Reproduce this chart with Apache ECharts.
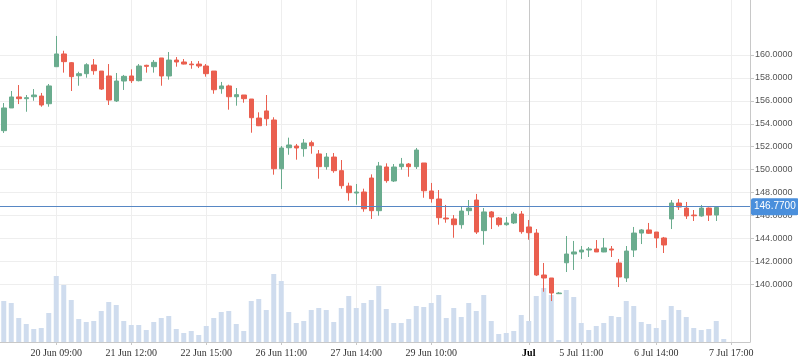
<!DOCTYPE html>
<html><head><meta charset="utf-8">
<script src="https://cdn.jsdelivr.net/npm/echarts@6/dist/echarts.min.js"></script>
<style>html,body{margin:0;padding:0;background:#fff}#c{width:798px;height:363px}</style>
</head><body><div id="c"></div>
<script>
// ---- data ----
const openP = [153.40,155.38,156.34,156.19,156.36,156.42,155.75,158.98,160.09,159.33,
158.19,158.37,159.13,158.60,158.17,155.99,157.73,158.17,157.76,159.10,
158.98,159.74,158.17,159.56,159.39,159.21,159.21,159.04,158.60,157.06,
157.30,156.36,156.51,156.16,154.50,155.12,154.33,150.08,151.91,152.06,
151.83,152.35,151.37,150.26,151.10,149.91,148.57,147.96,148.05,149.27,
146.42,150.23,149.01,150.26,150.49,150.26,150.58,148.14,147.44,145.78,
145.70,145.20,146.42,147.35,144.68,146.31,145.78,145.20,145.35,146.13,
145.00,144.47,140.81,140.55,139.18,141.88,142.64,142.82,142.99,143.08,
142.82,143.08,141.86,140.55,142.99,144.47,144.74,144.56,144.04,145.70,
147.09,146.65,146.04,145.96,146.65,146.04];
const closeP = [155.38,156.34,156.19,156.28,156.51,155.64,157.30,160.09,159.42,158.11,
158.37,159.15,158.63,157.03,156.07,157.73,158.14,157.76,159.04,159.01,
159.36,158.17,159.56,159.39,159.21,159.15,159.04,158.37,156.97,157.30,
156.36,156.54,156.19,154.53,153.83,154.44,150.08,151.89,152.15,151.89,
152.32,152.09,150.26,151.10,149.91,148.60,147.99,148.05,146.59,146.42,
150.32,149.04,150.23,150.49,150.26,151.71,148.16,147.47,145.81,145.70,
145.20,146.39,146.65,144.56,146.31,145.87,145.20,145.35,146.13,144.59,
144.50,140.81,140.55,139.24,139.24,142.64,142.82,142.99,143.08,142.82,
143.17,142.99,140.64,142.90,144.47,144.74,144.45,144.04,143.43,147.09,
146.74,145.96,145.98,146.65,146.04,146.70];
const lowP = [153.20,155.38,155.72,155.05,156.01,155.49,155.49,158.98,158.46,156.86,
157.32,158.02,158.28,156.95,155.64,155.90,156.95,157.56,157.70,158.46,
158.46,157.32,157.85,158.98,159.18,158.80,158.86,158.11,156.62,156.62,
155.23,155.58,155.84,153.22,153.80,153.83,149.56,148.31,151.30,150.87,
151.13,151.39,149.21,150.00,149.73,148.34,147.29,146.94,146.33,145.70,
145.98,148.86,148.92,150.00,149.38,150.06,147.55,147.12,145.20,145.37,
144.06,144.85,146.04,144.39,143.45,144.82,145.03,145.11,145.26,144.41,
143.89,140.72,139.35,138.54,139.18,141.07,141.25,142.21,142.38,142.82,
142.80,142.38,139.76,140.20,142.38,143.51,144.39,143.17,142.73,144.82,
146.48,145.70,145.52,145.90,145.52,145.52];
const highP = [155.81,156.86,157.38,156.51,157.03,156.69,157.47,161.66,160.37,159.39,
158.54,159.28,159.65,158.60,159.21,158.43,158.26,158.75,159.21,159.15,
159.56,159.74,160.26,159.82,159.65,159.47,159.47,159.21,158.60,157.65,
157.41,157.12,156.51,156.16,155.00,156.51,154.57,152.06,152.79,152.24,
152.67,152.53,151.71,151.45,151.45,150.84,148.86,148.75,148.34,149.59,
150.67,150.55,150.49,151.02,150.58,151.89,150.58,148.84,148.22,146.92,
146.04,146.74,147.35,147.88,146.65,146.39,145.87,145.87,146.31,146.39,
145.61,144.82,141.86,140.55,139.33,144.21,143.78,143.34,143.25,143.86,
144.04,143.34,142.21,143.34,145.00,144.82,145.35,144.56,144.13,147.35,
147.44,147.18,146.48,146.92,146.70,146.77];
const volume = [4100,3900,2400,1800,1300,1400,2900,6600,5700,4200,
2300,2000,2100,3100,4000,3700,2100,1700,1700,1200,
2000,2400,2600,1300,900,1100,700,1600,2400,3000,
3100,1800,1100,4100,4300,3200,6800,6100,3000,1900,
2100,3200,3400,3200,2000,3400,4600,3400,3900,4200,
5600,3300,1900,1900,2300,3600,3500,3900,4700,2400,
3400,2500,3900,3100,4700,2100,800,900,1100,2700,
2100,4600,5400,4700,200,5200,4500,1900,1200,1600,
1900,2600,2500,4100,3600,2000,1800,1400,2200,3600,
3200,2500,1400,1200,1300,2100,300];
const slotCount = 100;                       // hourly slots on the axis
const tickIndex = [7,17,27,37,47,57,70,77,87,97];
const tickText  = ['20 Jun 09:00','21 Jun 12:00','22 Jun 15:00','26 Jun 11:00','27 Jun 14:00',
                   '29 Jun 10:00','Jul','5 Jul 11:00','6 Jul 14:00','7 Jul 17:00'];
const gridLineIndex = [7,17,27,37,47,57,67,77,87,97];
const monthIndex = 70;
const lastPrice = 146.77;
const priceTickMin = 140, priceTickMax = 160, priceTickStep = 2;

// ---- build ----
const categories = [];
for (let i = 0; i < slotCount; i++) categories.push('s' + i);
const candles = openP.map((o, i) => [o, closeP[i], lowP[i], highP[i]]);

const UP = '#6aac8e', DOWN = '#ea5f4f';
const chart = echarts.init(document.getElementById('c'), null, {renderer: 'canvas'});
chart.setOption({
  animation: false,
  backgroundColor: '#fff',
  grid: [
    {left: 0, right: 48, top: 0, bottom: 21},
    {left: 0, right: 48, top: 55, bottom: 78.7}
  ],
  xAxis: [
    {
      type: 'category', gridIndex: 0, data: categories, boundaryGap: true,
      axisLine: {show: true, lineStyle: {color: '#c8c8c8'}},
      axisTick: {show: true, alignWithLabel: true, length: 3, lineStyle: {color: '#c8c8c8'},
        interval: (i) => tickIndex.includes(i)},
      splitLine: {show: true, alignWithLabel: true, lineStyle: {color: '#eeeeee'},
        interval: (i) => gridLineIndex.includes(i)},
      axisLabel: {
        interval: (i) => tickIndex.includes(i),
        formatter: (v, i) => {
          const k = tickIndex.indexOf(i);
          if (k < 0) return '';
          return i === monthIndex ? '{b|' + tickText[k] + '}' : tickText[k];
        },
        color: '#333', fontFamily: 'Liberation Serif', fontSize: 10, margin: 6,
        rich: {b: {fontWeight: 'bold', color: '#000', fontFamily: 'Liberation Serif', fontSize: 10}}
      }
    },
    {type: 'category', gridIndex: 1, data: categories, show: false}
  ],
  yAxis: [
    {
      type: 'value', gridIndex: 0, position: 'right', min: 134.967, max: 164.797,
      axisLine: {show: true, lineStyle: {color: '#c8c8c8'}},
      axisTick: {show: false}, axisLabel: {show: false}, splitLine: {show: false}
    },
    {type: 'value', gridIndex: 0, min: 0, max: 34200, show: false, splitLine: {show: false}},
    {
      type: 'value', gridIndex: 1, position: 'right',
      min: priceTickMin, max: priceTickMax, interval: priceTickStep,
      axisLine: {show: false},
      axisTick: {show: true, length: 4, lineStyle: {color: '#c8c8c8'}},
      axisLabel: {formatter: (v) => v.toFixed(4), color: '#555', fontFamily: 'Liberation Sans', fontSize: 9, margin: 5},
      splitLine: {show: true, lineStyle: {color: '#eeeeee'}}
    }
  ],
  series: [
    {
      type: 'bar', xAxisIndex: 0, yAxisIndex: 1, data: volume, barWidth: 5, z: 1,
      itemStyle: {color: '#cfdcee'}, silent: true,
      markLine: {
        silent: true, symbol: 'none', z: 1, animation: false,
        lineStyle: {color: '#c8c8c8', width: 1, type: 'solid'},
        label: {show: false},
        data: [{xAxis: categories[monthIndex]}]
      }
    },
    {
      type: 'candlestick', xAxisIndex: 0, yAxisIndex: 0, data: candles, barWidth: 5, z: 3,
      itemStyle: {color: UP, color0: DOWN, borderColor: UP, borderColor0: DOWN, borderWidth: 1},
      markLine: {
        silent: true, symbol: 'none', animation: false,
        lineStyle: {color: '#5787c4', width: 1, type: 'solid'},
        label: {
          show: true, position: 'end', distance: 1,
          formatter: () => lastPrice.toFixed(4),
          color: '#fff', backgroundColor: '#4a8fdc', padding: [4, 3, 3, 3],
          fontFamily: 'Liberation Sans', fontSize: 10, borderRadius: 2
        },
        data: [{yAxis: lastPrice}]
      }
    }
  ]
});
</script></body></html>
